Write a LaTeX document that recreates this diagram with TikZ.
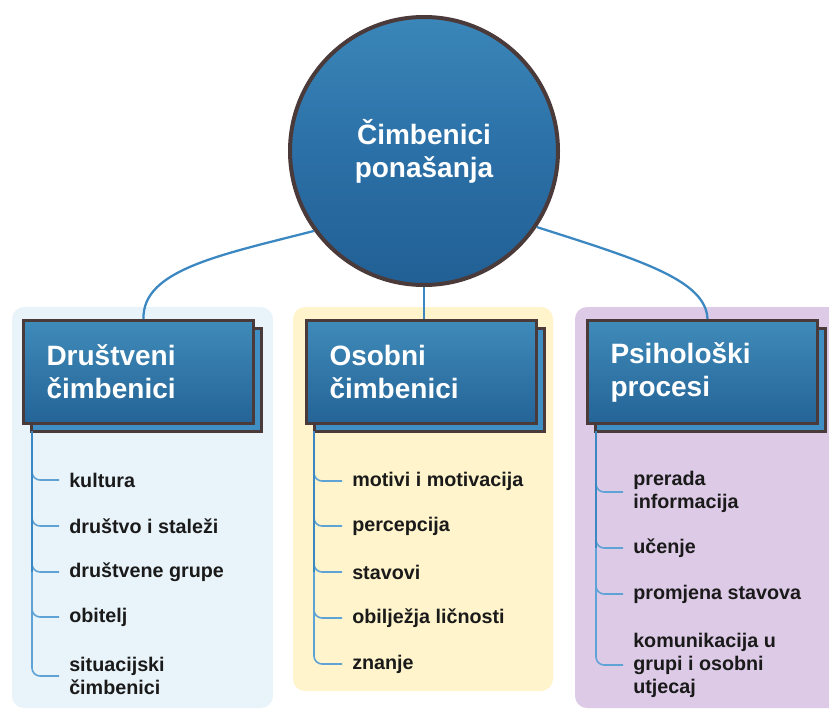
\documentclass[tikz,border=0pt]{standalone}
\usepackage{fontspec}
\setmainfont{Liberation Sans}
\definecolor{ht}{HTML}{4C9ECB}
\definecolor{hb1}{HTML}{1E5A8E}
\definecolor{hb2}{HTML}{3A7FB4}
\definecolor{ctop}{HTML}{4A9DCA}
\definecolor{cmid}{HTML}{2B70A7}
\definecolor{cbot}{HTML}{1E5A8E}
\definecolor{hborder}{HTML}{4B3A3A}
\definecolor{hshadow}{HTML}{3F8FC4}
\definecolor{pblue}{HTML}{E9F4FA}
\definecolor{pyellow}{HTML}{FFF4CB}
\definecolor{ppurple}{HTML}{DDCAE6}
\definecolor{lineblue}{HTML}{3A87C2}
\definecolor{branchblue}{HTML}{5FA2D6}
\definecolor{itemtxt}{HTML}{1A1A1A}
\pgfdeclareverticalshading{hdrshade}{100bp}{color(0bp)=(hb2); color(6bp)=(hb2); color(13bp)=(hb1); color(100bp)=(ht)}
\pgfdeclareverticalshading{circshade}{100bp}{color(0bp)=(cmid); color(8bp)=(cmid); color(16bp)=(cbot); color(50bp)=(cmid); color(100bp)=(ctop)}
\newcommand{\hfont}{\fontsize{21}{24.75}\selectfont\bfseries}
\newcommand{\ifont}{\fontsize{14.8}{17.25}\selectfont\bfseries}
\begin{document}
\begin{tikzpicture}[x=0.75pt,y=-0.75pt,
 panelbg/.style={rounded corners=9pt},
 hdr/.style={draw=hborder, line width=2.25pt, shading=hdrshade, minimum width=172.5pt, minimum height=77.25pt, text width=138pt, inner xsep=17.25pt, align=left, text=white, font=\hfont, anchor=north west},
 hdrshadow/.style={draw=hborder, line width=2.25pt, fill=hshadow, minimum width=172.5pt, minimum height=77.25pt, anchor=north west},
 item/.style={anchor=west, inner xsep=7.5pt, inner ysep=1pt, align=left, font=\ifont, text=itemtxt},
 conn/.style={draw=lineblue, line width=1.7pt},
 branch/.style={draw=branchblue, line width=1.2pt, rounded corners=6pt},
 trunkline/.style={draw=lineblue, line width=1.5pt},
]
\useasboundingbox (0,0) rectangle (829,711);
\fill[white] (0,0) rectangle (829,711);
% panels
\fill[pblue,panelbg] (12,307) rectangle (273,708);
\fill[pyellow,panelbg] (293,307) rectangle (553,691);
\fill[ppurple,panelbg] (575,307) rectangle (842,708);
% central circle
\node[circle, minimum size=201pt, draw=hborder, line width=3pt, shading=circshade, text=white, font=\hfont, align=center] (c) at (424,151) {Čimbenici\\ponašanja};
% header shadows and headers
\node[hdrshadow] (h1s) at (30,327) {};
\node[hdr] (h1) at (22,319) {Društveni\\čimbenici};
\node[hdrshadow] (h2s) at (313,327) {};
\node[hdr] (h2) at (305,319) {Osobni\\čimbenici};
\node[hdrshadow] (h3s) at (594,327) {};
\node[hdr] (h3) at (586,319) {Psihološki\\procesi};
% connectors from circle
\draw[conn] (c.216) .. controls (220,255) and (142,270) .. ([xshift=3.75pt]h1.north);
\draw[conn] (c.south) -- (h2.north -| c.south);
\draw[conn] (c.-34) .. controls (640,260) and (706,280) .. ([xshift=3.75pt]h3.north);
% trunks
\coordinate (t1) at (32,431);
\coordinate (t2) at (314,431);
\coordinate (t3) at (596,431);
% left items
\node[item] (a1) at (59,480) {kultura};
\node[item] (a2) at (59,526) {društvo i staleži};
\node[item] (a3) at (59,572) {društvene grupe};
\node[item] (a4) at (59,617) {obitelj};
\node[item] (a5) at (59,676) {situacijski\\čimbenici};
\foreach \n in {a1,a2,a3,a4,a5} \draw[branch] (t1) |- (\n.west);
\draw[trunkline] (t1) -- (t1 |- a3.west);
% middle items
\node[item] (b1) at (342,481) {motivi i motivacija};
\node[item] (b2) at (342,526) {percepcija};
\node[item] (b3) at (342,572) {stavovi};
\node[item] (b4) at (342,618) {obilježja ličnosti};
\node[item] (b5) at (342,664) {znanje};
\foreach \n in {b1,b2,b3,b4,b5} \draw[branch] (t2) |- (\n.west);
\draw[trunkline] (t2) -- (t2 |- b3.west);
% right items
\node[item] (r1) at (623,492) {prerada\\informacija};
\node[item] (r2) at (623,548) {učenje};
\node[item] (r3) at (623,594) {promjena stavova};
\node[item] (r4) at (623,665) {komunikacija u\\grupi i osobni\\utjecaj};
\foreach \n in {r1,r2,r3,r4} \draw[branch] (t3) |- (\n.west);
\draw[trunkline] (t3) -- (t3 |- r2.west);
\end{tikzpicture}
\end{document}
